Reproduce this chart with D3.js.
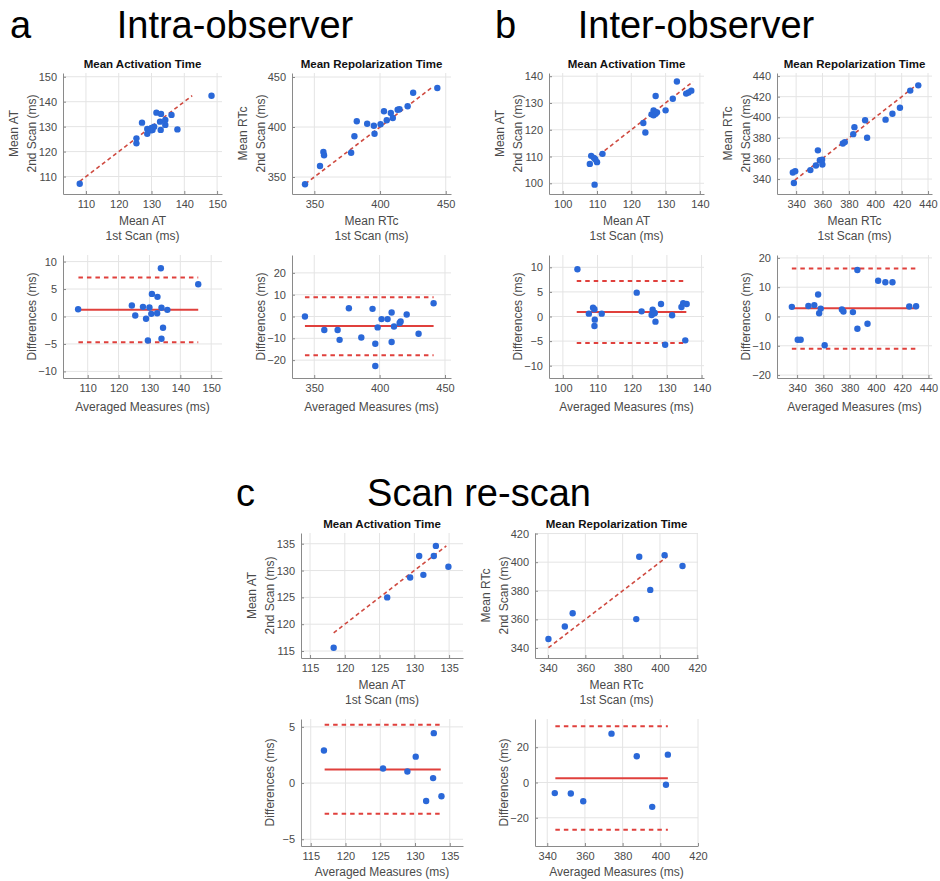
<!DOCTYPE html>
<html>
<head>
<meta charset="utf-8">
<script src="https://cdn.jsdelivr.net/npm/d3@7"></script>
<style>
  body { margin: 0; background: #fff; }
  svg text { font-family: "Liberation Sans", Arial, Helvetica, sans-serif; }
</style>
</head>
<body>
<svg id="fig" width="940" height="881"></svg>
<script>
// ---------- a: intra-observer ----------
const intraAT_scan1 = [108.1, 125.4, 125.4, 127.1, 128.7, 128.7, 130.0, 130.3, 130.8, 129.8, 131.5, 132.9, 132.6, 132.8, 134.2, 134.2, 136.1, 137.9, 148.3];
const intraAT_scan2 = [107.1, 125.3, 123.3, 131.6, 129.1, 127.1, 129.5, 128.7, 130.0, 128.5, 135.6, 135.1, 132.0, 128.7, 132.7, 130.7, 134.7, 128.9, 142.4];
const intraAT_avg  = [106.9, 124.3, 125.4, 127.9, 128.9, 130.0, 129.5, 130.8, 130.6, 132.6, 132.5, 133.7, 133.9, 133.9, 134.4, 135.8, 145.8];
const intraAT_diff = [1.33, 2.0, 0.18, 1.76, -0.42, 1.64, -4.36, 4.12, 0.48, 3.58, 0.6, 8.79, 1.58, -4.06, -2.06, 1.21, 5.88];
const intraAT_limits = [1.21, 7.09, -4.67];     // bias, upper, lower
const intraAT_span = [107.0, 145.8];
const intraAT_identity = [108.1, 142.4];

const intraRT_scan1 = [342.9, 354.3, 356.9, 357.4, 378.0, 380.5, 382.3, 390.2, 395.3, 395.8, 400.4, 403.0, 405.1, 408.2, 409.7, 413.4, 414.8, 421.0, 425.2, 443.6];
const intraRT_scan2 = [342.7, 361.0, 375.0, 371.7, 374.3, 390.7, 405.7, 403.3, 401.3, 393.3, 402.7, 415.7, 406.7, 414.0, 409.0, 417.3, 417.7, 420.7, 434.3, 439.0];
const intraRT_avg  = [342.9, 357.7, 367.9, 369.4, 376.5, 386.0, 394.6, 396.7, 396.7, 398.5, 401.5, 406.1, 409.2, 409.2, 411.0, 415.3, 416.1, 420.7, 429.8, 441.3];
const intraRT_diff = [0, -6.2, -6.2, -10.7, 3.8, -9.6, 3.5, -22.7, -12.5, -5.0, -1.2, -1.2, 1.8, -11.7, -4.6, -3.0, -2.3, 0.9, -7.9, 6.1];
const intraRT_limits = [-4.4, 8.8, -17.8];
const intraRT_span = [342.9, 441.3];
const intraRT_identity = [343.1, 439.0];

// ---------- b: inter-observer ----------
const interAT_scan1 = [107.9, 108.3, 109.1, 109.3, 109.5, 110.0, 111.6, 123.5, 124.1, 125.9, 126.5, 126.5, 127.1, 127.1, 127.5, 130.0, 132.1, 133.3, 136.0, 136.7, 137.5];
const interAT_scan2 = [107.25, 110.25, 109.5, 99.5, 109.0, 107.9, 111.0, 122.5, 119.0, 125.75, 127.25, 125.4, 132.6, 126.0, 126.5, 127.25, 131.6, 138.0, 133.5, 133.9, 134.6];
const interAT_avg  = [104.2, 107.5, 108.7, 109.1, 109.2, 109.1, 111.2, 121.3, 122.7, 125.6, 125.9, 126.3, 126.7, 126.5, 128.3, 129.5, 131.5, 134.2, 134.7, 135.7, 135.3];
const interAT_diff = [9.6, 0.58, 1.8, 1.46, -0.64, -1.93, 0.58, 4.85, 1.05, 0.3, 1.39, 0.64, -1.05, 0.71, 2.54, -5.73, 0.24, 1.93, 2.68, 2.54, -4.85];
const interAT_limits = [0.92, 7.22, -5.39];
const interAT_span = [104.0, 135.6];
const interAT_identity = [109.0, 138.0];

const interRT_scan1 = [337.5, 339.3, 338.3, 350.8, 355.0, 356.5, 358.0, 359.7, 359.9, 375.4, 376.9, 383.3, 384.2, 392.3, 393.8, 407.8, 413.0, 418.7, 426.5, 432.6];
const interRT_scan2 = [346.4, 347.7, 336.2, 348.7, 353.2, 367.9, 358.3, 358.7, 354.2, 374.6, 375.9, 383.6, 390.4, 397.1, 380.1, 397.7, 403.5, 409.2, 425.9, 431.0];
const interRT_avg  = [336.0, 340.5, 342.7, 348.6, 353.1, 356.0, 356.8, 358.0, 361.0, 374.1, 375.3, 382.5, 385.9, 385.9, 393.6, 401.7, 407.2, 412.6, 425.4, 430.6];
const interRT_diff = [3.3, -7.95, -7.95, 3.6, 3.9, 7.5, 1.1, 2.7, -9.8, 2.4, 1.7, 1.5, 15.9, -4.2, -2.5, 12.2, 11.7, 11.7, 3.4, 3.5];
const interRT_limits = [2.84, 16.4, -11.0];
const interRT_span = [336.0, 430.9];
const interRT_identity = [339.0, 431.0];

// ---------- c: scan re-scan ----------
const rescanAT_scan1 = [118.4, 126.1, 129.4, 130.7, 131.3, 132.8, 133.1, 134.9];
const rescanAT_scan2 = [115.6, 125.0, 128.7, 132.7, 129.2, 132.7, 134.6, 130.7];
const rescanAT_avg  = [116.9, 125.4, 128.9, 130.1, 131.6, 132.7, 132.6, 133.8];
const rescanAT_diff = [2.9, 1.3, 1.03, 2.35, -1.6, 4.44, 0.44, -1.18];
const rescanAT_limits = [1.2, 5.18, -2.74];
const rescanAT_span = [117.0, 133.7];
const rescanAT_identity = [118.4, 134.6];

const rescanRT_scan1 = [340.2, 349.0, 353.2, 387.3, 388.9, 394.8, 402.5, 412.1];
const rescanRT_scan2 = [346.3, 355.0, 364.3, 360.2, 403.8, 380.6, 404.9, 397.3];
const rescanRT_avg  = [344.0, 352.5, 359.1, 374.1, 387.5, 395.7, 403.0, 404.0];
const rescanRT_diff = [-6.0, -6.2, -10.6, 27.7, 14.9, -13.8, -1.3, 15.8];
const rescanRT_limits = [2.45, 31.9, -26.8];
const rescanRT_span = [344.3, 404.0];
const rescanRT_identity = [340.2, 404.0];

// ---------- tick labels ----------
const ticksAT_a = [110, 120, 130, 140, 150];
const ticksRT_a = [350, 400, 450];
const ticksDiffAT_a = [-10, -5, 0, 5, 10];
const ticksDiffRT_a = [-20, -10, 0, 10, 20];
const ticksAT_b = [100, 110, 120, 130, 140];
const ticksRT_b = [340, 360, 380, 400, 420, 440];
const ticksDiffAT_b = [-10, -5, 0, 5, 10];
const ticksDiffRT_b = [-20, -10, 0, 10, 20];
const ticksAT_c = [115, 120, 125, 130, 135];
const ticksRT_c = [340, 360, 380, 400, 420];
const ticksDiffAT_c = [-5, 0, 5];
const ticksDiffRT_c = [-20, 0, 20];

// ---------- text ----------
const sectionLetters = ["a", "b", "c"];
const sectionTitles = ["Intra-observer", "Inter-observer", "Scan re-scan"];
const plotTitles = ["Mean Activation Time", "Mean Repolarization Time"];
const measureNames = ["Mean AT", "Mean RTc"];

// ---------- drawing ----------
const svg = d3.select("#fig");
const DOT = "#2a68d8";
const RED = "#e0403c";
const DASH_RED = "#cf4a40";
const TXT = "#4a4a4a";

function frame(box, xDom, yDom, xTicks, yTicks) {
  const x = d3.scaleLinear().domain(xDom).range([box.l, box.r]);
  const y = d3.scaleLinear().domain(yDom).range([box.b, box.t]);
  const g = svg.append("g");
  // grid
  g.append("g").selectAll("line").data(xTicks).join("line")
    .attr("x1", d => x(d)).attr("x2", d => x(d))
    .attr("y1", box.t).attr("y2", box.b)
    .attr("stroke", "#e4e4e4").attr("stroke-width", 1);
  g.append("g").selectAll("line").data(yTicks).join("line")
    .attr("y1", d => y(d)).attr("y2", d => y(d))
    .attr("x1", box.l).attr("x2", box.r)
    .attr("stroke", "#e4e4e4").attr("stroke-width", 1);
  // axes
  const ax = g.append("g").attr("transform", `translate(0,${box.b})`)
    .call(d3.axisBottom(x).tickValues(xTicks).tickSizeInner(-3).tickSizeOuter(0).tickPadding(6));
  const ay = g.append("g").attr("transform", `translate(${box.l},0)`)
    .call(d3.axisLeft(y).tickValues(yTicks).tickSizeInner(-3).tickSizeOuter(0).tickPadding(6));
  [ax, ay].forEach(a => {
    a.select(".domain").attr("stroke", "#8a8a8a");
    a.selectAll(".tick line").attr("stroke", "#8a8a8a");
    a.selectAll(".tick text").attr("fill", TXT).style("font-size", "11px");
  });
  return { x, y, g };
}

function label(g, txt, x, y, rot, size, weight, fill) {
  g.append("text").text(txt)
    .attr("transform", `translate(${x},${y})` + (rot ? " rotate(-90)" : ""))
    .attr("text-anchor", "middle")
    .style("font-size", size + "px")
    .style("font-weight", weight || "normal")
    .attr("fill", fill || TXT);
}

function scatterPanel(box, dom, ticks, s1, s2, ident, title, measure) {
  const { x, y, g } = frame(box, dom, dom, ticks, ticks);
  g.append("line")
    .attr("x1", x(ident[0])).attr("y1", y(ident[0]))
    .attr("x2", x(ident[1])).attr("y2", y(ident[1]))
    .attr("stroke", DASH_RED).attr("stroke-width", 1.6)
    .attr("stroke-dasharray", "4,3");
  g.append("g").selectAll("circle").data(s1).join("circle")
    .attr("cx", d => x(d)).attr("cy", (d, i) => y(s2[i]))
    .attr("r", 3.2).attr("fill", DOT);
  const cx = (box.l + box.r) / 2, cy = (box.t + box.b) / 2;
  label(g, title, cx, box.t - 5, false, 11.5, "bold", "#111");
  label(g, measure, cx, box.b + 31, false, 12);
  label(g, "1st Scan (ms)", cx, box.b + 46, false, 12);
  label(g, measure, box.l - 45, cy, true, 12);
  label(g, "2nd Scan (ms)", box.l - 27, cy, true, 12);
}

function baPanel(box, xDom, yDom, xTicks, yTicks, avg, diff, lim, span, labelGap) {
  const { x, y, g } = frame(box, xDom, yDom, xTicks, yTicks);
  lim.forEach((v, i) => {
    g.append("line")
      .attr("x1", x(span[0])).attr("x2", x(span[1]))
      .attr("y1", y(v)).attr("y2", y(v))
      .attr("stroke", RED).attr("stroke-width", 2)
      .attr("stroke-dasharray", i === 0 ? null : "4.5,4");
  });
  g.append("g").selectAll("circle").data(avg).join("circle")
    .attr("cx", d => x(d)).attr("cy", (d, i) => y(diff[i]))
    .attr("r", 3.2).attr("fill", DOT);
  const cx = (box.l + box.r) / 2, cy = (box.t + box.b) / 2;
  label(g, "Averaged Measures (ms)", cx, box.b + (labelGap || 33), false, 12);
  label(g, "Differences (ms)", box.l - 27, cy, true, 12);
}

// section headings
const heads = svg.append("g").attr("fill", "#000").style("font-size", "38px");
[[10, 38], [495, 38], [236, 506]].forEach((p, i) => {
  heads.append("text").attr("x", p[0]).attr("y", p[1]).text(sectionLetters[i]);
});
[[235, 38], [696, 38], [479, 506]].forEach((p, i) => {
  heads.append("text").attr("x", p[0]).attr("y", p[1]).attr("text-anchor", "middle").text(sectionTitles[i]);
});

// a
scatterPanel({ l: 63, r: 222, t: 73, b: 194 }, [103, 151.5], ticksAT_a, intraAT_scan1, intraAT_scan2, intraAT_identity, plotTitles[0], measureNames[0]);
scatterPanel({ l: 292, r: 451, t: 73, b: 194 }, [333, 454], ticksRT_a, intraRT_scan1, intraRT_scan2, intraRT_identity, plotTitles[1], measureNames[1]);
baPanel({ l: 63, r: 222, t: 255, b: 378 }, [102, 153.5], [-11.2, 11.2], ticksAT_a, ticksDiffAT_a, intraAT_avg, intraAT_diff, intraAT_limits, intraAT_span);
baPanel({ l: 292, r: 451, t: 255, b: 378 }, [333, 454.6], [-28.2, 28.2], ticksRT_a, ticksDiffRT_a, intraRT_avg, intraRT_diff, intraRT_limits, intraRT_span);

// b
scatterPanel({ l: 549, r: 704, t: 73, b: 194 }, [96, 141.2], ticksAT_b, interAT_scan1, interAT_scan2, interAT_identity, plotTitles[0], measureNames[0]);
scatterPanel({ l: 777, r: 932, t: 73, b: 194 }, [325.5, 443], ticksRT_b, interRT_scan1, interRT_scan2, interRT_identity, plotTitles[1], measureNames[1]);
baPanel({ l: 549, r: 704, t: 255, b: 378 }, [96, 140.7], [-12.5, 12.5], ticksAT_b, ticksDiffAT_b, interAT_avg, interAT_diff, interAT_limits, interAT_span);
baPanel({ l: 777, r: 932, t: 255, b: 378 }, [324.7, 442.7], [-21, 21], ticksRT_b, ticksDiffRT_b, interRT_avg, interRT_diff, interRT_limits, interRT_span);

// c
scatterPanel({ l: 301, r: 463, t: 533, b: 658 }, [113.7, 137], ticksAT_c, rescanAT_scan1, rescanAT_scan2, rescanAT_identity, plotTitles[0], measureNames[0]);
scatterPanel({ l: 535, r: 698, t: 533, b: 658 }, [333, 420.4], ticksRT_c, rescanRT_scan1, rescanRT_scan2, rescanRT_identity, plotTitles[1], measureNames[1]);
baPanel({ l: 301, r: 463, t: 719, b: 846 }, [113.6, 136.9], [-5.6, 5.7], ticksAT_c, ticksDiffAT_c, rescanAT_avg, rescanAT_diff, rescanAT_limits, rescanAT_span, 30);
baPanel({ l: 535, r: 698, t: 719, b: 846 }, [333.5, 420], [-36, 36], ticksRT_c, ticksDiffRT_c, rescanRT_avg, rescanRT_diff, rescanRT_limits, rescanRT_span, 30);
</script>
</body>
</html>
